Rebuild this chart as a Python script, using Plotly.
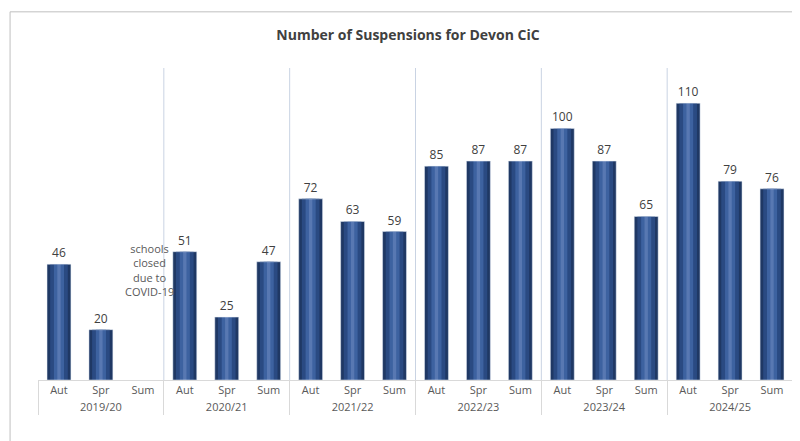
import plotly.graph_objects as go

years = ["2019/20", "2020/21", "2021/22", "2022/23", "2023/24", "2024/25"]
terms = ["Aut", "Spr", "Sum"]
values = [46, 20, None, 51, 25, 47, 72, 63, 59, 85, 87, 87, 100, 87, 65, 110, 79, 76]

xy = [y for y in years for _ in terms]
xt = terms * len(years)

fig = go.Figure()
# layered bars to fake the shaded cylinder look
for w, col in [(0.57, "#1F3864"), (0.42, "#2A4A82"), (0.24, "#3D62A0"), (0.08, "#5878B2")]:
    fig.add_trace(go.Bar(x=[xy, xt], y=values, width=w, marker_color=col,
                         marker_line_width=0, hoverinfo="skip", showlegend=False,
                         cliponaxis=False))
fig.add_trace(go.Bar(x=[xy, xt], y=values, width=0.57, marker_color="rgba(0,0,0,0)",
                     text=[str(v) if v is not None else "" for v in values],
                     textposition="outside", textfont=dict(size=12, color="#404040"),
                     showlegend=False, hoverinfo="skip", cliponaxis=False))

for i in range(1, len(years)):
    fig.add_shape(type="line", x0=i * 3 - 0.5, x1=i * 3 - 0.5, y0=0, y1=1, yref="paper",
                  line=dict(color="#C9D3E3", width=1))

fig.add_annotation(x=2.15, y=56, text="schools<br>closed<br>due to<br>COVID-19", showarrow=False,
                   yanchor="top", font=dict(size=11, color="#595959"))

fig.update_layout(
    width=800, height=441, barmode="overlay",
    title=dict(text="<b>Number of Suspensions for Devon CiC</b>", x=0.5, y=0.95,
               font=dict(size=14, color="#404040")),
    font=dict(family="Open Sans", color="#595959", size=11),
    paper_bgcolor="white", plot_bgcolor="white",
    margin=dict(l=30, r=15, t=60, b=69),
    xaxis=dict(showline=True, linecolor="#D9D9D9", tickcolor="#D9D9D9", showdividers=True,
               dividercolor="#D9D9D9"),
    yaxis=dict(visible=False, range=[0, 124]),
)
fig.add_shape(type="rect", xref="paper", yref="paper", x0=-0.037, x1=1.017, y0=-0.21, y1=1.18,
              line=dict(color="#BFBFBF", width=1))
fig.write_html("out.html")
